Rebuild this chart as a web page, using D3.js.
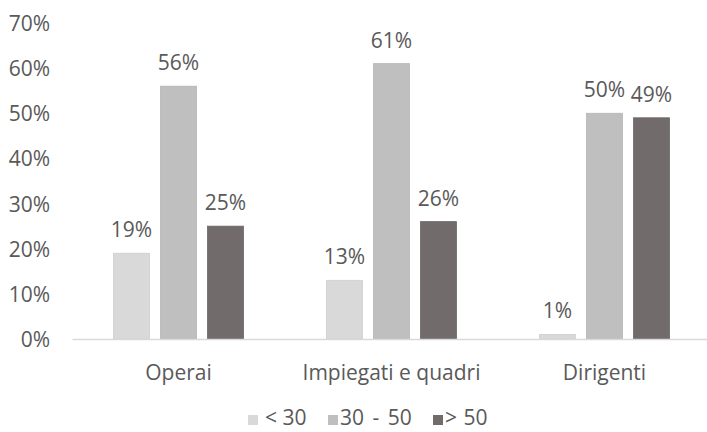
<!DOCTYPE html>
<html>
<head>
<meta charset="utf-8">
<script src="https://cdn.jsdelivr.net/npm/d3@7"></script>
<style>
  html, body { margin: 0; padding: 0; background: #ffffff; }
  svg { display: block; }
  text { font-family: "Open Sans", "Noto Sans", sans-serif; fill: #595959; }
</style>
</head>
<body>
<svg id="chart" width="707" height="432"></svg>
<script>
// Distribuzione per fascia d'età, per categoria professionale
const categories = ["Operai", "Impiegati e quadri", "Dirigenti"];
const series = ["< 30", "30 - 50", "> 50"];
const under30 = [19, 13, 1];
const from30to50 = [56, 61, 50];
const over50 = [25, 26, 49];
const yTicks = [0, 10, 20, 30, 40, 50, 60, 70];
const colors = ["#d9d9d9", "#bfbfbf", "#716c6b"];

const values = [under30, from30to50, over50];
const rows = categories.map((c, i) => ({
  category: c,
  bars: series.map((s, j) => ({ key: s, value: values[j][i], color: colors[j] }))
}));

const svg = d3.select("#chart");
const FS = "21px";

const x0 = d3.scaleBand().domain(categories).range([72, 711]).paddingInner(0).paddingOuter(0);
const x1 = d3.scaleBand().domain(series)
  .range([41.5, x0.bandwidth() - 41.5])
  .paddingInner(11 / 47).paddingOuter(0);
const y = d3.scaleLinear().domain([0, 70]).range([339, 23]);

// Etichette dell'asse verticale
const yAxis = d3.axisLeft(y).tickValues(yTicks).tickFormat(d => d + "%").tickSize(0).tickPadding(0);
const gy = svg.append("g").attr("transform", "translate(50,0)").call(yAxis);
gy.select(".domain").remove();
gy.selectAll("text")
  .attr("dy", "7.5")
  .style("font-size", FS)
  .attr("fill", "#595959");

// Barre
const groups = svg.selectAll("g.cat").data(rows).join("g")
  .attr("class", "cat")
  .attr("transform", d => `translate(${x0(d.category)},0)`);

groups.selectAll("rect").data(d => d.bars).join("rect")
  .attr("x", d => x1(d.key))
  .attr("width", x1.bandwidth())
  .attr("y", d => y(d.value))
  .attr("height", d => y(0) - y(d.value))
  .attr("fill", d => d.color)
  .attr("stroke", d => d3.color(d.color).darker(0.15))
  .attr("stroke-width", 0.8);

groups.selectAll("text.val").data(d => d.bars).join("text")
  .attr("class", "val")
  .attr("x", d => x1(d.key) + x1.bandwidth() / 2)
  .attr("y", d => y(d.value) - 16)
  .attr("text-anchor", "middle")
  .style("font-size", FS)
  .text(d => d.value + "%");

// Asse orizzontale
const xAxis = d3.axisBottom(x0).tickSize(0).tickPadding(0);
const gx = svg.append("g").attr("transform", `translate(0,${y(0)})`).call(xAxis);
gx.select(".domain").attr("stroke", "#d9d9d9").attr("stroke-width", 1.5);
gx.selectAll("text")
  .attr("y", 41)
  .attr("dy", null)
  .style("font-size", FS)
  .attr("fill", "#595959");

// Legenda
const legendX = [248, 328, 433];
const legendTextX = [17, 12, 12];
const legendSpacing = [0, 3, 1];
const legend = svg.append("g").selectAll("g").data(series).join("g")
  .attr("transform", (d, i) => `translate(${legendX[i]},0)`);
legend.append("rect")
  .attr("x", 0).attr("y", 415).attr("width", 10).attr("height", 10)
  .attr("fill", (d, i) => colors[i]);
legend.append("text")
  .attr("x", (d, i) => legendTextX[i]).attr("y", 425)
  .style("font-size", FS)
  .style("word-spacing", (d, i) => legendSpacing[i] + "px")
  .text(d => d);
</script>
</body>
</html>
